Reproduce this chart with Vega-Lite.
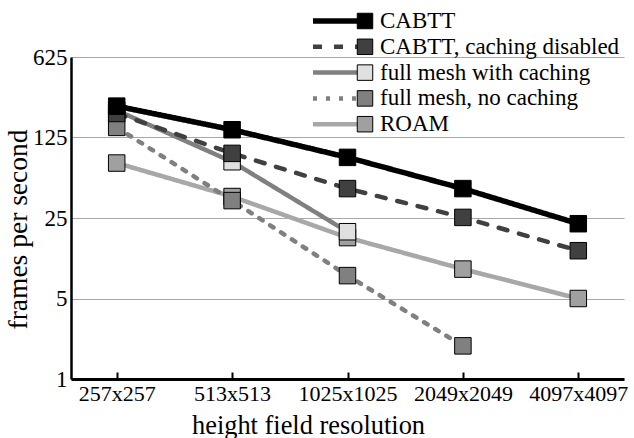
{
  "$schema": "https://vega.github.io/schema/vega-lite/v6.json",
  "width": 553,
  "height": 322,
  "autosize": {"type": "none"},
  "padding": {"left": 71, "top": 57, "right": 10, "bottom": 59},
  "background": "white",
  "config": {
    "view": {"stroke": null},
    "font": "Times New Roman, Liberation Serif, serif",
    "axis": {
      "labelFont": "Times New Roman, Liberation Serif, serif",
      "titleFont": "Times New Roman, Liberation Serif, serif",
      "labelColor": "black",
      "titleColor": "black",
      "titleFontWeight": "normal",
      "domainColor": "black",
      "gridColor": "#a8a8a8",
      "gridWidth": 1
    },
    "legend": {
      "labelFont": "Times New Roman, Liberation Serif, serif"
    }
  },
  "data": {
    "values": [
      {"series": "ROAM", "res": "257x257", "fps": 75},
      {"series": "ROAM", "res": "513x513", "fps": 38.4},
      {"series": "ROAM", "res": "1025x1025", "fps": 16.9},
      {"series": "ROAM", "res": "2049x2049", "fps": 9.0},
      {"series": "ROAM", "res": "4097x4097", "fps": 5.0},
      {"series": "full mesh, no caching", "res": "257x257", "fps": 153},
      {"series": "full mesh, no caching", "res": "513x513", "fps": 35.4},
      {"series": "full mesh, no caching", "res": "1025x1025", "fps": 7.9},
      {"series": "full mesh, no caching", "res": "2049x2049", "fps": 1.94},
      {"series": "full mesh with caching", "res": "257x257", "fps": 215},
      {"series": "full mesh with caching", "res": "513x513", "fps": 77},
      {"series": "full mesh with caching", "res": "1025x1025", "fps": 19},
      {"series": "CABTT, caching disabled", "res": "257x257", "fps": 202},
      {"series": "CABTT, caching disabled", "res": "513x513", "fps": 91},
      {"series": "CABTT, caching disabled", "res": "1025x1025", "fps": 45},
      {"series": "CABTT, caching disabled", "res": "2049x2049", "fps": 25.3},
      {"series": "CABTT, caching disabled", "res": "4097x4097", "fps": 13.0},
      {"series": "CABTT", "res": "257x257", "fps": 234},
      {"series": "CABTT", "res": "513x513", "fps": 146},
      {"series": "CABTT", "res": "1025x1025", "fps": 84},
      {"series": "CABTT", "res": "2049x2049", "fps": 45},
      {"series": "CABTT", "res": "4097x4097", "fps": 22.3}
    ]
  },
  "encoding": {
    "x": {
      "field": "res",
      "type": "ordinal",
      "sort": ["257x257", "513x513", "1025x1025", "2049x2049", "4097x4097"],
      "scale": {"type": "point", "padding": 0.396},
      "axis": {
        "title": "height field resolution",
        "labelAngle": 0,
        "labelFontSize": 22,
        "labelPadding": 11,
        "labelBaseline": "top",
        "grid": false,
        "ticks": true,
        "tickSize": -7,
        "tickWidth": 2,
        "tickColor": "black",
        "domainWidth": 3,
        "titleFontSize": 26.4,
        "titleX": 237,
        "titleY": 54.5,
        "titleAlign": "center",
        "titleBaseline": "alphabetic"
      }
    },
    "y": {
      "field": "fps",
      "type": "quantitative",
      "scale": {"type": "log", "base": 5, "domain": [1, 625], "nice": false},
      "axis": {
        "title": "frames per second",
        "values": [1, 5, 25, 125, 625],
        "format": "d",
        "labelFontSize": 23,
        "labelPadding": 4,
        "ticks": false,
        "grid": true,
        "domainWidth": 2.5,
        "titleFontSize": 27.5,
        "titleAngle": 270,
        "titleX": -45,
        "titleY": 172,
        "titleAlign": "center",
        "titleBaseline": "alphabetic"
      }
    }
  },
  "layer": [
    {
      "mark": {"type": "line", "strokeCap": "round", "strokeJoin": "round"},
      "encoding": {
        "stroke": {
          "field": "series",
          "type": "nominal",
          "scale": {
            "domain": ["CABTT", "CABTT, caching disabled", "full mesh with caching", "full mesh, no caching", "ROAM"],
            "range": ["#000000", "#404040", "#808080", "#808080", "#a8a8a8"]
          },
          "legend": {
            "title": null,
            "orient": "none",
            "legendX": 282.5,
            "legendY": -47.5,
            "padding": 0,
            "symbolType": "M-13,0H0",
            "symbolSize": 64,
            "symbolStrokeWidth": 4.5,
            "labelFontSize": 23,
            "labelColor": "black",
            "labelOffset": 3.5,
            "labelLimit": 0,
            "rowPadding": 1.8
          }
        },
        "strokeDash": {
          "field": "series",
          "type": "nominal",
          "scale": {
            "domain": ["CABTT", "CABTT, caching disabled", "full mesh with caching", "full mesh, no caching", "ROAM"],
            "range": [[1, 0], [9, 12], [1, 0], [4, 9], [1, 0]]
          },
          "legend": {
            "title": null,
            "orient": "none",
            "legendX": 282.5,
            "legendY": -47.5,
            "padding": 0,
            "symbolType": "M-13,0H0",
            "symbolSize": 64,
            "symbolStrokeWidth": 4.5,
            "labelFontSize": 23,
            "labelColor": "black",
            "labelOffset": 3.5,
            "labelLimit": 0,
            "rowPadding": 1.8
          }
        },
        "strokeWidth": {
          "field": "series",
          "type": "nominal",
          "scale": {
            "type": "ordinal",
            "domain": ["CABTT", "CABTT, caching disabled", "full mesh with caching", "full mesh, no caching", "ROAM"],
            "range": [5.5, 4.5, 4.5, 4.5, 4.5]
          },
          "legend": null
        }
      }
    },
    {
      "mark": {"type": "square", "size": 272, "stroke": "black", "strokeWidth": 1, "opacity": 1, "filled": true},
      "encoding": {
        "fill": {
          "field": "series",
          "type": "nominal",
          "sort": ["CABTT", "CABTT, caching disabled", "full mesh with caching", "full mesh, no caching", "ROAM"],
          "scale": {"range": ["#000000", "#404040", "#e0e0e0", "#808080", "#a0a0a0"]},
          "legend": {
            "title": null,
            "orient": "none",
            "legendX": 282.5,
            "legendY": -47.5,
            "padding": 0,
            "symbolType": "square",
            "symbolSize": 240,
            "symbolStrokeColor": "black",
            "symbolStrokeWidth": 1,
            "symbolOpacity": 1,
            "labelFontSize": 23,
            "labelOpacity": 0,
            "labelOffset": 3.5,
            "labelLimit": 0,
            "rowPadding": 1.8
          }
        }
      }
    }
  ]
}
